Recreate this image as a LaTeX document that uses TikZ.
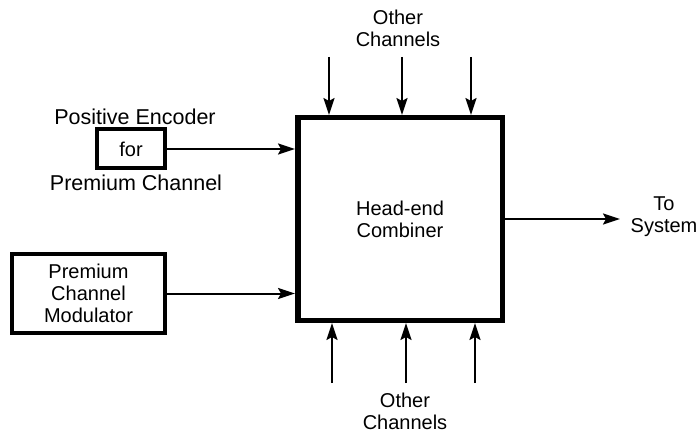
\documentclass[tikz,border=0pt]{standalone}
\usepackage{fontspec}
\setmainfont{Liberation Sans}
\usetikzlibrary{calc,positioning,arrows.meta}

\begin{document}
\begin{tikzpicture}[
    x=1pt, y=-1pt,
    arrowstyle/.style={draw, line width=2pt, -{Stealth[length=17pt,width=11pt,inset=3pt]}},
    block/.style={rectangle, draw, line width=4pt, align=center,
        font=\fontsize{20}{22}\selectfont},
    combiner/.style={rectangle, draw, line width=5.5pt, align=center,
        minimum width=204.5pt, minimum height=202.5pt,
        font=\fontsize{20}{22}\selectfont},
    label/.style={align=center, inner sep=0pt, font=\fontsize{20}{22}\selectfont},
    biglabel/.style={label, font=\fontsize{21.5}{23}\selectfont}
]
\useasboundingbox (0,0) rectangle (697,433);

% main box
\node (Combiner) [combiner] at (400,219) {Head-end\\Combiner};

% inputs on the left
\node (Encoder) [block, minimum width=68pt, minimum height=39pt] at (131,149) {for};
\node (EncoderTop) [biglabel] at (135,117) {Positive Encoder};
\node (EncoderBot) [biglabel] at (136,183) {Premium Channel};
\node (Modulator) [block, minimum width=153pt, minimum height=79pt] at (88.5,293.5)
  {Premium\\Channel\\Modulator};

\draw [arrowstyle] (Encoder.east) -- (Encoder.east -| Combiner.west);
\draw [arrowstyle] (Modulator.east) -- (Modulator.east -| Combiner.west);

% other channels
\node (OtherTop) [label] at (398,28) {Other\\Channels};
\node (OtherBot) [label] at (405,411) {Other\\Channels};
\foreach \x [count=\i] in {329,402,471} {
  \coordinate (Top\i) at (\x,57);
  \draw [arrowstyle] (Top\i) -- (Top\i |- Combiner.north);
}
\foreach \x [count=\i] in {332,406,475} {
  \coordinate (Bot\i) at (\x,383);
  \draw [arrowstyle] (Bot\i) -- (Bot\i |- Combiner.south);
}

% output
\node (System) [label] at (664,217) {To\\System};
\coordinate (Out) at (620,219);
\draw [arrowstyle] (Combiner.east |- Out) -- (Out);
\end{tikzpicture}
\end{document}
